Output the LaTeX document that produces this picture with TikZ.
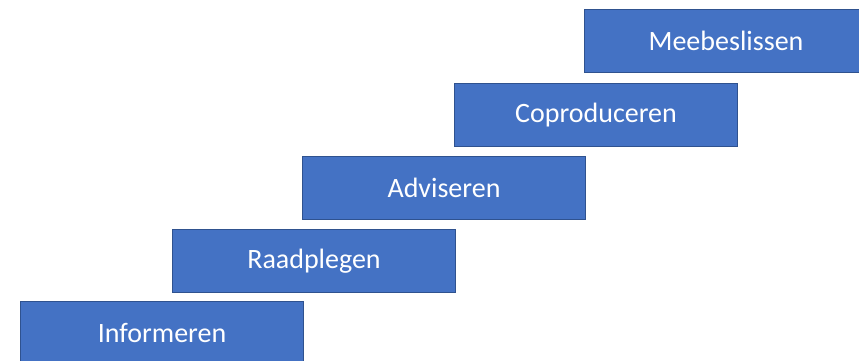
\documentclass[tikz,border=0pt]{standalone}
\usepackage{fontspec}
\setmainfont{Carlito}
\definecolor{stapblauw}{HTML}{4472C4}
\definecolor{staprand}{HTML}{2F528F}
\begin{document}
\begin{tikzpicture}[x=1pt, y=-1pt,
  stap/.style={shape=rectangle, draw=staprand, fill=stapblauw, line width=1.2pt,
    minimum width=283pt, minimum height=63pt, inner sep=0pt, text=white,
    font=\fontsize{28}{34}\selectfont}]
\useasboundingbox (0,0) rectangle (859,361);
\clip (0,0) rectangle (859,361);
\node[stap] (informeren) at (162, 333) {Informeren};
\node[stap] (raadplegen) at (314, 261) {Raadplegen};
\node[stap] (adviseren) at (444, 188) {Adviseren};
\node[stap] (coproduceren) at (596, 115) {Coproduceren};
\node[stap] (meebeslissen) at (726, 41) {Meebeslissen};
\end{tikzpicture}
\end{document}
